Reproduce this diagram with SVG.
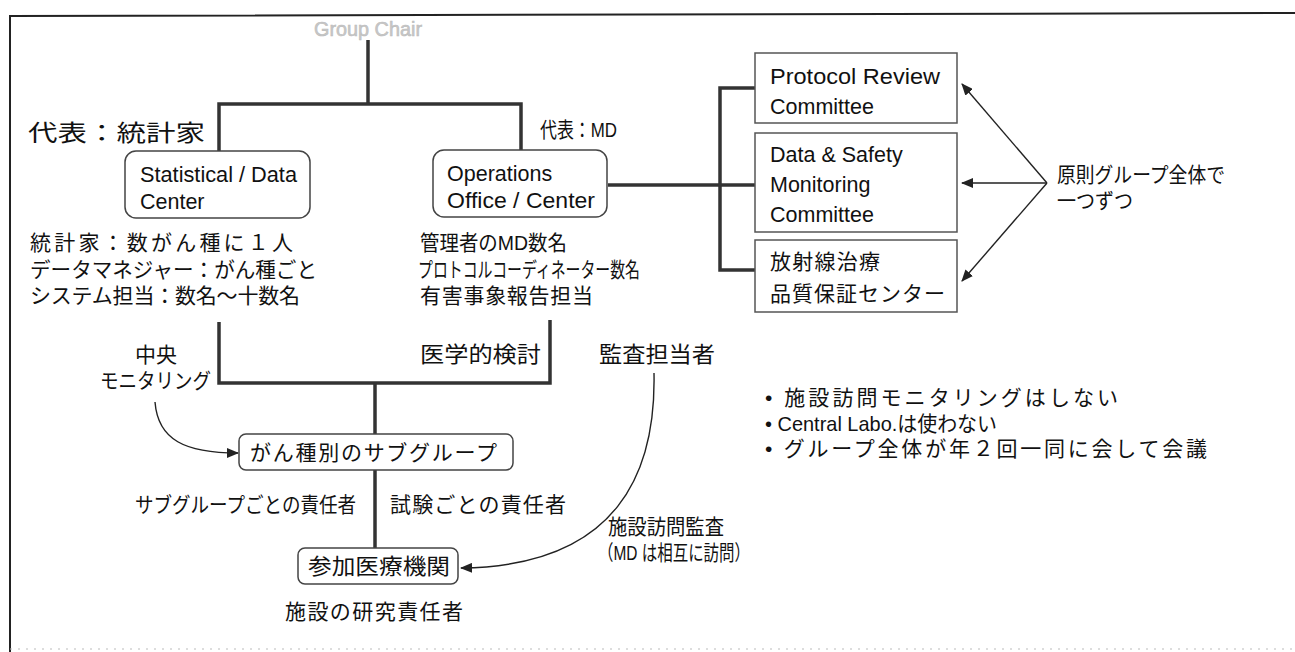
<svg xmlns="http://www.w3.org/2000/svg" width="1295" height="652" viewBox="0 0 1295 652">
<style>
text{font-family:"Liberation Sans","Noto Sans CJK JP",sans-serif;fill:#111;font-size:21px}
.en{font-size:21.5px}
.line{stroke:#333;stroke-width:3.5;fill:none}
.thin{stroke:#222;stroke-width:1.4;fill:none}
.rbox{fill:#fff;stroke:#444;stroke-width:1.5}
.sbox{fill:#fff;stroke:#555;stroke-width:1.5}
.frame{stroke:#222;stroke-width:2;fill:none}
</style>
<defs>
<marker id="ah" markerWidth="12" markerHeight="10" refX="11" refY="5" orient="auto" markerUnits="userSpaceOnUse">
<path d="M0,0 L12,5 L0,10 Z" fill="#222"/>
</marker>
</defs>
<rect width="1295" height="652" fill="#fff"/>
<path class="frame" d="M10,652 L10,16 L1295,13"/>
<path d="M10,649 L1295,649" stroke="#bbb" stroke-width="1" stroke-dasharray="2,6" fill="none"/>

<g id="connectors">
<path class="line" d="M368,40 L368,104"/>
<path class="line" d="M219,151 L219,104 L521,104 L521,150"/>
<path class="line" d="M608,185 L720,185"/>
<path class="line" d="M755,88 L720,88 L720,270 L755,270"/>
<path class="line" d="M720,185 L755,185"/>
<path class="line" d="M219,322 L219,383 L550,383 L550,320"/>
<path class="line" d="M375,383 L375,434"/>
<path class="line" d="M375,470 L375,548"/>
<path class="thin" d="M1047,183 L962,84" marker-end="url(#ah)"/>
<path class="thin" d="M1047,183 L962,183" marker-end="url(#ah)"/>
<path class="thin" d="M1047,183 L962,281" marker-end="url(#ah)"/>
<path class="thin" d="M155,402 C158,440 185,453 238,453" marker-end="url(#ah)"/>
<path class="thin" d="M654,373 C656,470 620,566 461,568" marker-end="url(#ah)"/>
</g>

<g id="group-chair">
<text x="368" y="36" text-anchor="middle" style="fill:#c8c8c8;stroke:#bbb;stroke-width:0.6" textLength="108" lengthAdjust="spacingAndGlyphs">Group Chair</text>
</g>

<g id="label-stat-rep"><text x="28" y="141" style="font-size:23px" textLength="177" lengthAdjust="spacingAndGlyphs">代表：統計家</text></g>
<g id="label-md-rep"><text x="540" y="137" textLength="77" lengthAdjust="spacingAndGlyphs">代表：MD</text></g>

<g id="stat-center">
<rect class="rbox" x="125" y="151" width="185" height="67" rx="11"/>
<text class="en" x="140" y="182" textLength="157" lengthAdjust="spacingAndGlyphs">Statistical / Data</text>
<text class="en" x="140" y="209">Center</text>
</g>

<g id="ops-center">
<rect class="rbox" x="433" y="150" width="174" height="67" rx="11"/>
<text class="en" x="447" y="181">Operations</text>
<text class="en" x="447" y="208" textLength="148" lengthAdjust="spacingAndGlyphs">Office / Center</text>
</g>

<g id="protocol-review">
<rect class="sbox" x="755" y="53" width="202" height="70"/>
<text class="en" x="770" y="84" textLength="170" lengthAdjust="spacingAndGlyphs">Protocol Review</text>
<text class="en" x="770" y="114">Committee</text>
</g>

<g id="dsmc">
<rect class="sbox" x="755" y="133" width="202" height="99"/>
<text class="en" x="770" y="162">Data &amp; Safety</text>
<text class="en" x="770" y="192">Monitoring</text>
<text class="en" x="770" y="222">Committee</text>
</g>

<g id="rt-qa">
<rect class="sbox" x="755" y="240" width="202" height="72"/>
<text x="770" y="269" textLength="110" lengthAdjust="spacing">放射線治療</text>
<text x="770" y="301" textLength="175" lengthAdjust="spacing">品質保証センター</text>
</g>

<g id="label-principle">
<text x="1057" y="182" textLength="168" lengthAdjust="spacingAndGlyphs">原則グループ全体で</text>
<text x="1057" y="208" textLength="76" lengthAdjust="spacingAndGlyphs">一つずつ</text>
</g>

<g id="stat-staff">
<text x="30" y="250" textLength="263" lengthAdjust="spacing">統計家：数がん種に１人</text>
<text x="30" y="277" textLength="287" lengthAdjust="spacingAndGlyphs">データマネジャー：がん種ごと</text>
<text x="30" y="303" textLength="270" lengthAdjust="spacing">システム担当：数名～十数名</text>
</g>

<g id="ops-staff">
<text x="420" y="250" textLength="147" lengthAdjust="spacingAndGlyphs">管理者のMD数名</text>
<text x="418" y="277" textLength="222" lengthAdjust="spacingAndGlyphs">プロトコルコーディネーター数名</text>
<text x="420" y="303" textLength="173" lengthAdjust="spacing">有害事象報告担当</text>
</g>

<g id="label-central-monitoring">
<text x="156" y="362" text-anchor="middle">中央</text>
<text x="100" y="388" textLength="111" lengthAdjust="spacingAndGlyphs">モニタリング</text>
</g>
<g id="label-medical-review"><text x="420" y="362" style="font-size:22px" textLength="121" lengthAdjust="spacingAndGlyphs">医学的検討</text></g>
<g id="label-auditor"><text x="599" y="362" style="font-size:22px" textLength="116" lengthAdjust="spacingAndGlyphs">監査担当者</text></g>

<g id="bullets">
<text x="765" y="405" textLength="353" lengthAdjust="spacing">• 施設訪問モニタリングはしない</text>
<text x="765" y="431" textLength="232" lengthAdjust="spacingAndGlyphs">• Central Labo.は使わない</text>
<text x="765" y="456" textLength="442" lengthAdjust="spacing">• グループ全体が年２回一同に会して会議</text>
</g>

<g id="subgroup">
<rect class="rbox" x="239" y="434" width="274" height="36" rx="7"/>
<text x="250" y="460" textLength="247" lengthAdjust="spacing">がん種別のサブグループ</text>
</g>

<g id="label-resp">
<text x="135" y="512" textLength="221" lengthAdjust="spacingAndGlyphs">サブグループごとの責任者</text>
<text x="390" y="512" textLength="176" lengthAdjust="spacing">試験ごとの責任者</text>
</g>

<g id="label-site-audit">
<text x="608" y="534" textLength="116" lengthAdjust="spacingAndGlyphs">施設訪問監査</text>
<text x="598" y="560" textLength="152" lengthAdjust="spacingAndGlyphs">（MD は相互に訪問）</text>
</g>

<g id="participating">
<rect class="rbox" x="298" y="548" width="160" height="36" rx="7"/>
<text x="308" y="574" style="font-size:22px" textLength="142" lengthAdjust="spacingAndGlyphs">参加医療機関</text>
</g>

<g id="label-site-pi"><text x="285" y="619" textLength="178" lengthAdjust="spacing">施設の研究責任者</text></g>
</svg>
